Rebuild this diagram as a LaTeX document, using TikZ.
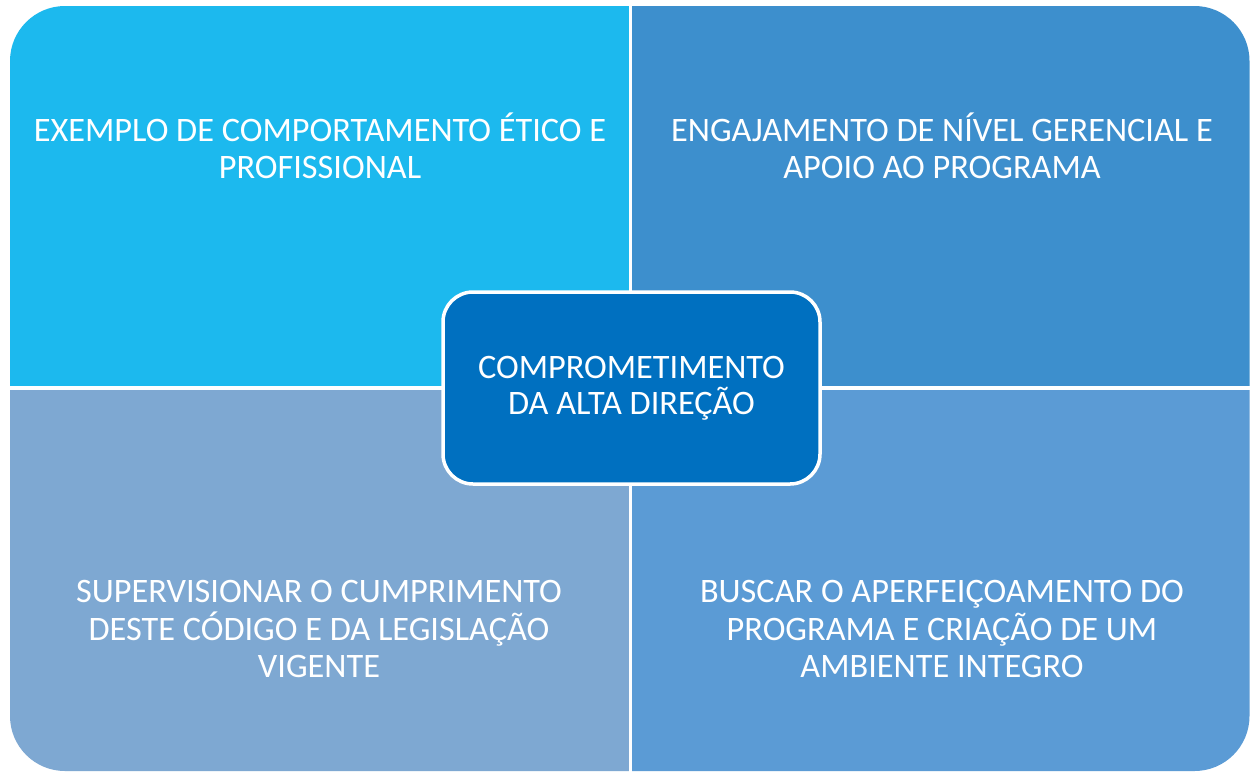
\documentclass[tikz,border=0pt]{standalone}
\usepackage{fontspec}
\setmainfont{Carlito}
\definecolor{cTL}{RGB}{28,185,238}
\definecolor{cTR}{RGB}{61,143,205}
\definecolor{cBL}{RGB}{126,168,210}
\definecolor{cBR}{RGB}{91,155,213}
\definecolor{cC}{RGB}{0,112,192}
\begin{document}
\begin{tikzpicture}[x=1pt,y=-1pt,
  quad/.style={draw=none,inner sep=0pt,outer sep=0pt,anchor=north west},
  qtext/.style={text=white,align=center,font=\fontsize{34.3}{37.3}\selectfont,inner sep=0pt},
  centerbox/.style={fill=cC,draw=white,line width=3.5pt,rounded corners=30pt,
    minimum width=377pt,minimum height=192pt,text=white,align=center,
    font=\fontsize{34.3}{36}\selectfont}]
\useasboundingbox (0,0) rectangle (1250,772);
\fill[white] (0,0) rectangle (1250,772);
\begin{scope}
\clip[rounded corners=55pt] (10,6) rectangle (1249.5,771);
\node[quad,fill=cTL,minimum width=619pt,minimum height=380pt] (tl) at (10,6) {};
\node[quad,fill=cTR,minimum width=618pt,minimum height=380pt] (tr) at (632,6) {};
\node[quad,fill=cBL,minimum width=619pt,minimum height=382pt] (bl) at (10,390) {};
\node[quad,fill=cBR,minimum width=618pt,minimum height=382pt] (br) at (632,390) {};
\end{scope}
\node[qtext] (ttl) at (320,146) {EXEMPLO DE COMPORTAMENTO ÉTICO E\\PROFISSIONAL};
\node[qtext] (ttr) at (942,146) {ENGAJAMENTO DE NÍVEL GERENCIAL E\\APOIO AO PROGRAMA};
\node[qtext] (tbl) at (319,629) {SUPERVISIONAR O CUMPRIMENTO\\DESTE CÓDIGO E DA LEGISLAÇÃO\\VIGENTE};
\node[qtext] (tbr) at (942,629) {BUSCAR O APERFEIÇOAMENTO DO\\PROGRAMA E CRIAÇÃO DE UM\\AMBIENTE INTEGRO};
\node[centerbox] (c) at (631.5,388) {COMPROMETIMENTO\\DA ALTA DIREÇÃO};
\end{tikzpicture}
\end{document}
